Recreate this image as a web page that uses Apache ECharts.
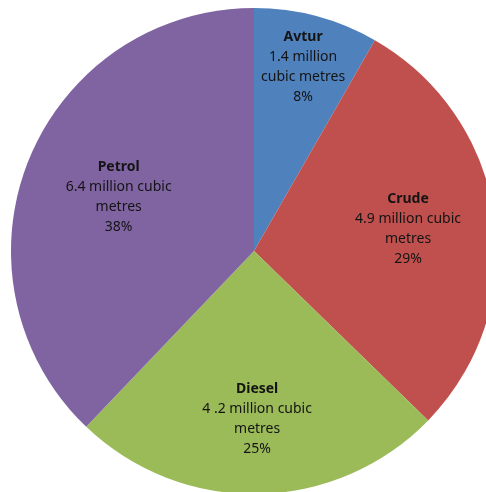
<!DOCTYPE html>
<html><head><meta charset="utf-8">
<script src="https://cdn.jsdelivr.net/npm/echarts@6/dist/echarts.min.js"></script>
<style>html,body{margin:0;padding:0;background:#fff}#chart{width:486px;height:492px}</style>
</head><body><div id="chart"></div>
<script>
// Fuel volumes, million cubic metres
const categories = ['Avtur', 'Crude', 'Diesel', 'Petrol'];
const volumes = [1.4, 4.9, 4.2, 6.4];
const amountText = ['1.4 million\ncubic metres', '4.9 million cubic\nmetres', '4 .2 million cubic\nmetres', '6.4 million cubic\nmetres'];
const sliceColors = ['#4F81BD', '#C0504D', '#9BBB59', '#8064A2'];
// how far out each label sits, as a share of the radius
const labelRadius = [0.785, 0.64, 0.69, 0.60];

const CX = 254, CY = 251, R = 243;
const total = volumes.reduce((a, b) => a + b, 0);
const midAngles = [];
let acc = 0;
volumes.forEach(v => { midAngles.push((acc + v / 2) / total * 2 * Math.PI); acc += v; });

const chart = echarts.init(document.getElementById('chart'), null, { renderer: 'canvas' });
chart.setOption({
  animation: false,
  backgroundColor: '#ffffff',
  series: [{
    type: 'pie',
    center: [CX, CY],
    radius: [0, R],
    startAngle: 90,
    clockwise: true,
    avoidLabelOverlap: false,
    emphasis: { disabled: true },
    itemStyle: { borderWidth: 0 },
    data: categories.map((c, i) => ({ name: c, value: volumes[i], itemStyle: { color: sliceColors[i] } })),
    label: {
      show: true,
      position: 'inside',
      align: 'center',
      verticalAlign: 'middle',
      formatter: p => '{b|' + p.name + '}\n{t|' + amountText[p.dataIndex] + '\n' + Math.round(p.value / total * 100) + '%}',
      rich: {
        b: { fontFamily: 'Noto Sans', fontSize: 14, fontWeight: 'bold', color: '#141414', lineHeight: 20, align: 'center' },
        t: { fontFamily: 'Noto Sans', fontSize: 14, color: '#141414', lineHeight: 20, align: 'center' }
      }
    },
    labelLine: { show: false },
    labelLayout: p => {
      const i = p.dataIndex, a = midAngles[i];
      return { x: CX + labelRadius[i] * R * Math.sin(a), y: CY - labelRadius[i] * R * Math.cos(a), align: 'center', verticalAlign: 'middle' };
    }
  }]
});
</script></body></html>
